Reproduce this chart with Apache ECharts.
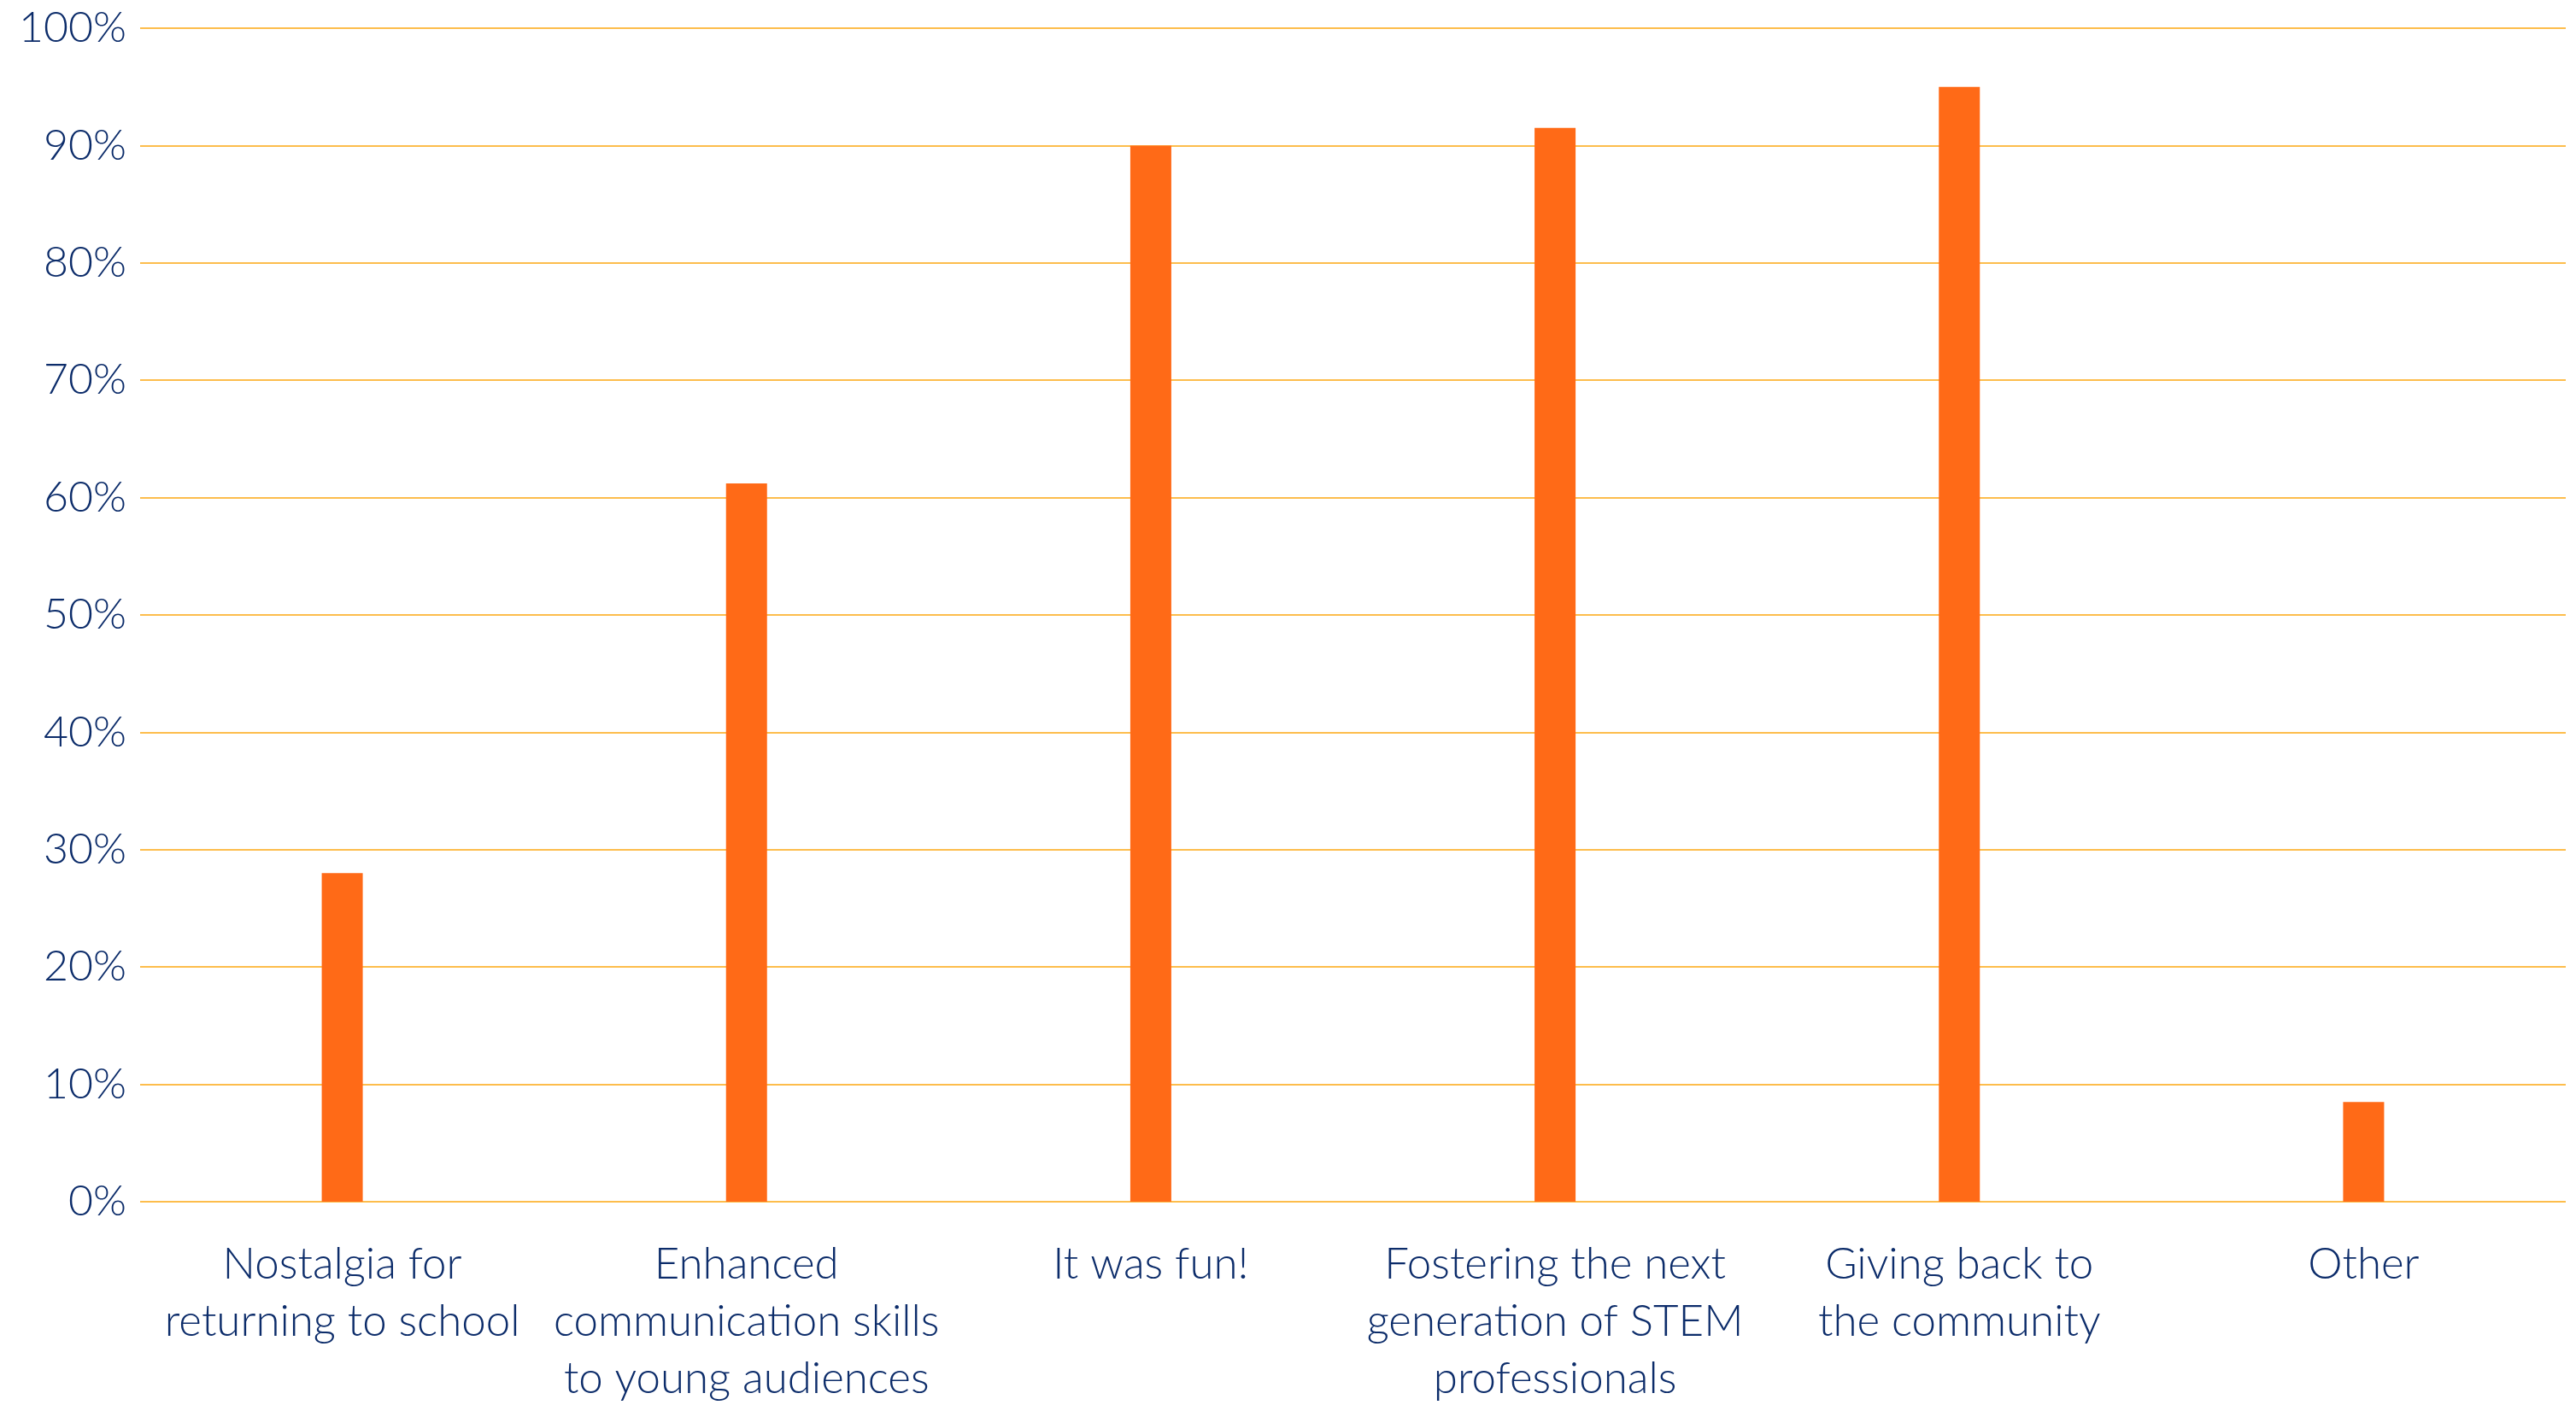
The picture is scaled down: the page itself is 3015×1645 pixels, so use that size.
<!DOCTYPE html>
<html>
<head>
<meta charset="utf-8">
<script src="https://cdn.jsdelivr.net/npm/echarts@6/dist/echarts.min.js"></script>
<style>
  html, body { margin: 0; padding: 0; background: #ffffff; }
  #chart { width: 3015px; height: 1645px; }
</style>
</head>
<body>
<div id="chart"></div>
<script>
// Reasons given for volunteering (share of respondents)
const categories = [
  'Nostalgia for\nreturning to school',
  'Enhanced\ncommunication skills\nto young audiences',
  'It was fun!',
  'Fostering the next\ngeneration of STEM\nprofessionals',
  'Giving back to\nthe community',
  'Other'
];
const shares = [28, 61.2, 90, 91.5, 95, 8.5];
const yTicks = { min: 0, max: 100, step: 10 };

const navy = '#0C2C6A';
const gridColor = '#FDBD4C';

const chart = echarts.init(document.getElementById('chart'), null, { renderer: 'canvas' });
chart.setOption({
  animation: false,
  backgroundColor: '#ffffff',
  grid: { left: 164, right: 12, top: 33, bottom: 238, containLabel: false, outerBoundsMode: 'none' },
  xAxis: {
    type: 'category',
    data: categories,
    axisLine: { show: false },
    axisTick: { show: false },
    axisLabel: {
      color: navy,
      fontFamily: 'Lato',
      fontWeight: 300,
      fontSize: 51,
      lineHeight: 67,
      margin: 40,
      interval: 0,
      align: 'center'
    }
  },
  yAxis: {
    type: 'value',
    min: yTicks.min,
    max: yTicks.max,
    interval: yTicks.step,
    axisLine: { show: false },
    axisTick: { show: false },
    splitLine: { lineStyle: { color: gridColor, width: 2 } },
    axisLabel: {
      color: navy,
      fontFamily: 'Lato',
      fontWeight: 300,
      fontSize: 50,
      margin: 16,
      formatter: '{value}%'
    }
  },
  series: [{
    type: 'bar',
    data: shares,
    barWidth: 48,
    itemStyle: { color: '#FF6A17' }
  }]
});
</script>
</body>
</html>
